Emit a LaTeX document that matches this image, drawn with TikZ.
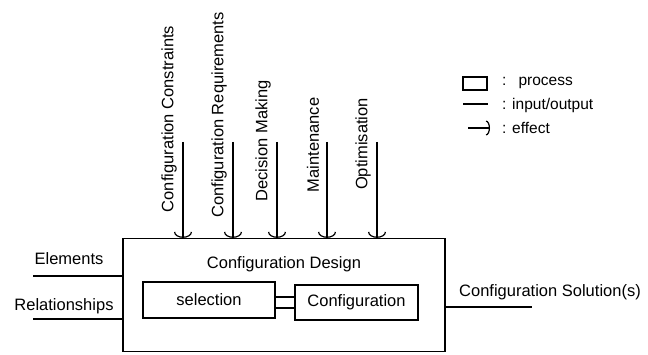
\documentclass[tikz,border=0pt]{standalone}
\usepackage{fontspec}
\setmainfont{Liberation Sans}
\usepackage{tikz}
\usetikzlibrary{positioning, arrows.meta, calc}

\begin{document}
\begin{tikzpicture}[x=1pt,y=-1pt]
    \tikzset{procbox/.style={draw=black,line width=1.2pt,inner sep=0pt,font=\fontsize{16.5}{19}\selectfont}, lbl/.style={inner sep=0pt,font=\fontsize{16.5}{19}\selectfont}, leglbl/.style={inner sep=0pt,anchor=west,font=\fontsize{15.5}{18}\selectfont}, io/.style={draw=black,line width=1.2pt}, effect/.style={io,-{Arc Barb[length=6pt,width=18pt,line width=1.2pt]}}}
    \useasboundingbox (0,0) rectangle (648,355);
    % process
    \node[procbox,minimum width=322pt,minimum height=113pt] (design) at (284,295) {};
    \node[lbl] (title) at (284,264) {Configuration Design};
    \node[procbox,minimum width=132pt,minimum height=36pt] (sel) at (209,300) {selection};
    \node[procbox,minimum width=123pt,minimum height=35pt] (conf) at (356.5,302.5) {Configuration};
    \draw[io] ([yshift=3pt]sel.east) -- ([yshift=3pt]sel.east -| conf.west);
    \draw[io] ([yshift=-8pt]sel.east) -- ([yshift=-8pt]sel.east -| conf.west);
    % inputs
    \node[lbl] (elem) at (69,259) {Elements};
    \node[lbl] (rel) at (64,306) {Relationships};
    \coordinate (elin) at (33,276);
    \coordinate (relin) at (33,319);
    \draw[io] (elin) -- (elin -| design.west);
    \draw[io] (relin) -- (relin -| design.west);
    % output
    \node[lbl] (sol) at (550,292) {Configuration Solution(s)};
    \coordinate (solout) at (532,307);
    \draw[io] (solout -| design.east) -- (solout);
    % effects from above
    \foreach \i/\x/\c/\t in {1/183/119/Configuration Constraints, 2/233/115/Configuration Requirements, 3/277/141/Decision Making, 4/327/145/Maintenance, 5/377/144/Optimisation} {
      \node[lbl,rotate=90] (eff\i) at (\x-14,\c) {\t};
      \coordinate (top\i) at (\x,142);
      \draw[effect] (top\i) -- (top\i |- design.north);
    }
    % legend
    \node[draw=black,line width=1.2pt,minimum width=24pt,minimum height=13pt,inner sep=0pt] (lgproc) at (475,83.5) {};
    \node[leglbl] (lgproctxt) at (502,83) {:\hspace{12pt}process};
    \coordinate (lgio) at (463,104);
    \node[leglbl] (lgiotxt) at (502,105) {: input/output};
    \draw[io] (lgio) -- ++(25,0);
    \coordinate (lgeff) at (468,128);
    \node[leglbl] (lgefftxt) at (502,128) {: effect};
    \draw[io,-{Arc Barb[length=4pt,width=15pt,line width=1.2pt]}] (lgeff) -- ++(22,0);
\end{tikzpicture}
\end{document}
